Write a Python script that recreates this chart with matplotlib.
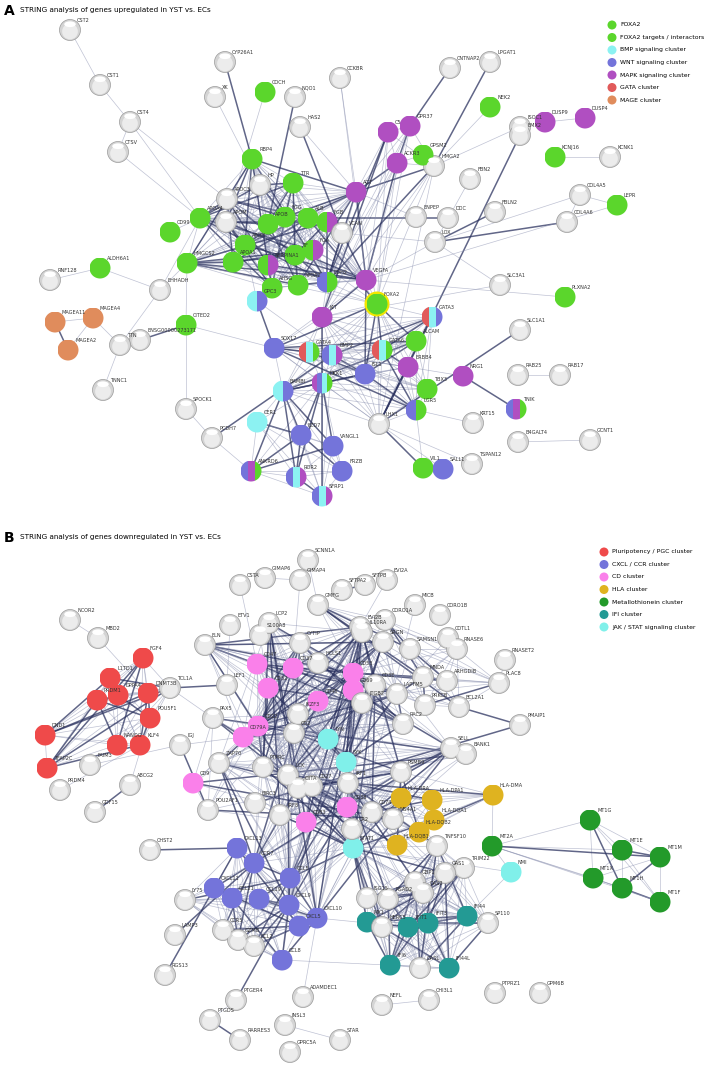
import matplotlib
matplotlib.use("Agg")
import matplotlib.pyplot as plt
from matplotlib.patches import Circle, Rectangle, Ellipse
from itertools import combinations

# ---------------- colours / groups ----------------
GROUP_COLORS = {"G": "#5bd62c", "C": "#8cf2f2", "B": "#7474da", "M": "#b04fc1",
                "R": "#e15a5a", "O": "#e08c5c",
                "P": "#ef4a4a", "K": "#fa80ea", "H": "#dfb320", "T": "#239a2a",
                "I": "#239a94", "J": "#80f0ea"}
LEGEND_A = [("G", "FOXA2"), ("G", "FOXA2 targets / interactors"), ("C", "BMP signaling cluster"),
            ("B", "WNT signaling cluster"), ("M", "MAPK signaling cluster"), ("R", "GATA cluster"),
            ("O", "MAGE cluster")]
LEGEND_B = [("P", "Pluripotency / PGC cluster"), ("B", "CXCL / CCR cluster"), ("K", "CD cluster"),
            ("H", "HLA cluster"), ("T", "Metallothionein cluster"), ("I", "IFI cluster"),
            ("J", "JAK / STAT signaling cluster")]

# ---------------- panel A nodes ----------------
A_names = ["CST2","CST1","CST4","CTSV","CYP26A1","XK","NQO1","CCKBR","HAS2","COCH","CNTNAP2","LPGAT1",
           "NEK2","DUSP9","DUSP4","C5","GPR37","ISOC1","ACKR3","HMGA2","GPSM2","FBN2","KCNJ16","KCNK1",
           "RBP4","HP","TTR","APOC3","APOA4","APOM","APOB","FGG","ALB","FGB","AGT","VCAN","ENPEP","DDC",
           "LOX","HMGCS2","APOH","APOA1","SERPINA1","TF","FGA","AHSG","APOA2","CDH2","VEGFA","FOXA2",
           "KIT","GPC3","GATA3","ALCAM","CITED2","SOX17","GATA4","BMP2","GATA6","ERBB4","ISL1","DKK1",
           "BAMBI","CER1","FZD7","VANGL1","FRZB","ROR2","SFRP1","ANKRD6","LHX1","LGR5","TBX3","NRG1",
           "KRT15","VIL1","SALL1","TSPAN12","TNIK","SLC1A1","RAB25","B4GALT4","SPOCK1","PCDH7",
           "ENSG00000273171","RNF128","CD99","ALDH6A1","EHHADH","MAGEA11","MAGEA4","MAGEA2","TTN","TNNC1",
           "SLC3A1","PLXNA2","FBLN2","COL4A5","COL4A6","LEPR","RAB17","GCNT1","EMX2"]
A_x = [70,100,130,118,225,215,295,340,300,265,450,490,490,545,585,388,410,520,397,434,423,470,555,610,
       252,260,293,227,200,226,268,285,308,327,356,342,416,448,435,187,245,233,268,295,313,272,298,327,366,377,
       322,257,432,416,186,274,309,332,382,408,365,322,283,257,301,333,342,296,322,251,379,416,427,463,
       473,423,443,472,516,520,518,518,186,212,140,50,170,100,160,55,93,68,120,103,500,565,495,580,567,617,560,590,520]
A_y = [30,85,122,152,62,97,97,78,127,92,68,62,107,122,118,132,126,127,163,166,155,179,157,157,
       159,185,183,199,218,222,224,217,218,222,192,233,217,218,242,263,245,262,265,255,250,288,285,282,280,304,
       317,301,317,341,325,348,352,355,350,367,374,383,391,422,435,446,471,477,496,471,424,410,389,376,
       423,468,469,464,409,330,375,442,409,438,340,280,232,268,290,322,318,350,345,390,285,297,212,195,222,205,375,440,135]
A_groups = ["","","","","","","","","","G","","","G","M","M","M","M","","M","","G","","G","",
            "G","","G","","G","","G","G","G","GM","M","","","","","G","G","G","GM","G","GM","G","G","BG","M","G",
            "M","CB","RCB","G","G","B","RCG","BCM","RCG","M","B","MBCG","CB","C","B","B","B","BCM","BCM","BMG","","BG","G","M",
            "","G","B","","BMG","","","","","","","","G","G","","O","O","O","","","","G","","","","G","","",""]

A_cliques = [
    ["RBP4","HP","TTR","APOC3","APOA4","APOM","APOB","FGG","ALB","FGB","AGT","APOH","APOA1","SERPINA1",
     "TF","FGA","AHSG","APOA2","CDH2","HMGCS2","VEGFA"],
    ["FOXA2","KIT","GATA3","ALCAM","SOX17","GATA4","BMP2","GATA6","ERBB4","ISL1","DKK1","BAMBI","LHX1","TBX3","LGR5"],
    ["DKK1","FZD7","VANGL1","FRZB","ROR2","SFRP1","ANKRD6","BAMBI","CER1"],
    ["AGT","VEGFA","KIT","CDH2","FOXA2","ACKR3","C5","GPR37","HMGA2"],
]
A_pairs = [("CST2","CST1"),("CST1","CST4"),("CST4","CTSV"),("CST4","APOC3"),("CST4","APOA4"),("CTSV","APOA4"),
           ("CYP26A1","RBP4"),("XK","HP"),("NQO1","APOB"),("CCKBR","VEGFA"),("HAS2","VCAN"),("COCH","APOM"),
           ("CNTNAP2","GPR37"),("LPGAT1","HMGA2"),("NEK2","HMGA2"),("DUSP9","DUSP4"),("ISOC1","HMGA2"),
           ("GPSM2","ACKR3"),("FBN2","LOX"),("ENPEP","AGT"),("DDC","ALB"),("LOX","VCAN"),("LOX","FBLN2"),
           ("LOX","COL4A5"),("LOX","COL4A6"),("COL4A5","COL4A6"),("COL4A5","LEPR"),("LOX","VEGFA"),
           ("VCAN","VEGFA"),("VCAN","CDH2"),("HMGA2","LHX1"),("LOX","SLC3A1"),("SLC3A1","KIT"),
           ("SLC1A1","LHX1"),("RAB25","RAB17"),("B4GALT4","GCNT1"),("NRG1","ERBB4"),("NRG1","TNIK"),
           ("KRT15","LGR5"),("VIL1","LGR5"),("SALL1","LHX1"),("TSPAN12","LHX1"),("VIL1","LHX1"),
           ("CITED2","HMGCS2"),("CITED2","SOX17"),("CITED2","ENSG00000273171"),("CITED2","SPOCK1"),
           ("SPOCK1","PCDH7"),("PCDH7","ANKRD6"),("PCDH7","BMP2"),("RNF128","ALDH6A1"),("ALDH6A1","EHHADH"),
           ("EHHADH","HMGCS2"),("EHHADH","APOA4"),("CD99","APOA4"),("MAGEA11","MAGEA4"),("MAGEA11","MAGEA2"),
           ("MAGEA4","MAGEA2"),("MAGEA4","TTN"),("TTN","TNNC1"),("TTN","EHHADH"),("GPC3","APOH"),
           ("GPC3","BMP2"),("GPC3","SOX17"),("EMX2","LHX1"),("PLXNA2","VEGFA"),("LEPR","VEGFA"),
           ("KCNJ16","KCNK1"),("VEGFA","SOX17"),("VEGFA","ISL1"),("FOXA2","APOA1"),("FOXA2","TTR"),
           ("FOXA2","APOB"),("FOXA2","ALB"),("FOXA2","HMGCS2"),("FOXA2","GATA3"),("KIT","SFRP1"),
           ("BMP2","SFRP1"),("GATA4","GATA6"),("CCKBR","AGT"),("HAS2","AGT")]

# ---------------- panel B nodes ----------------
B_names = ["FGF4","L1TD1","DPPA4","DNMT3B","PRDM1","POU5F1","NANOG","KLF4","DND1","TFAP2C","TCL1A",
           "SCNN1A","CSTA","GIMAP6","GIMAP4","SFTPA2","SFTPB","EVI2A","MICB","NCOR2","MBD2","ETV1","S100A8",
           "GMFG","CORO1A","COTL1","EVI2B","CYTIP","SRGN","SAMSN1","RNASE6","RNASET2",
           "CD47","CD37","CD52","CD53","CD48","CD22","CD79A","CD9","CD38","CD83","CD69",
           "LYN","SYK","STAT1","NMI",
           "HLA-DRA","HLA-DPA1","HLA-DMA","HLA-DQA1","HLA-DQB2","HLA-DQB1",
           "MT2A","MT1G","MT1E","MT1M","MT1X","MT1H","MT1F",
           "MX1","IFIT1","IFIT3","IFI44","IFI6","IFI44L",
           "CXCL13","CCR7","CCL5","CXCL11","CCL21","CCL19","CXCL9","CXCL10","CXCL5","CCL8",
           "HCLS1","LEF1","CD3E","MNDA","ARHGDIB","PLAC8","LAPTM5","PRKCB","BCL2A1","PMAIP1","PAX5",
           "ITGB2","RAC2","CD2","IKZF3","ELN","LCP2","CORO1B","IL10RA","SELL","BANK1","BIRC3","POU2AF1",
           "ZAP70","PTPRC","LCK","PSMB9","CIITA","CD27","IRF1","IRF8","CR2","MS4A1","TNFSF10","CD74",
           "TRIM22","OAS1","GBP1","OAS2","ISG15","RSAD2","HERC5","SP110","LY75","CCR5","GZMB","CCL2",
           "OASL","PTGER4","PTGDS","RARRES3","GPRC5A","INSL3","STAR","ADAMDEC1","NEFL","CHI3L1",
           "PTPRZ1","GPM6B","IGJ","FAIM3","PRDM4","ABCG2","GDF15","CHST2","LAMP3","RGS13"]
B_x = [143,110,118,148,97,150,117,140,45,47,170,
       308,240,265,300,342,365,387,415,70,98,230,260,318,385,448,360,300,383,410,457,505,
       257,293,268,353,318,258,243,193,347,306,353,
       328,346,353,511,
       401,432,493,434,419,397,
       492,590,622,660,593,622,660,
       367,408,428,467,390,449,
       237,254,290,214,232,259,289,317,299,282,
       318,227,375,423,447,499,397,425,459,520,213,
       362,403,294,298,205,269,440,362,451,466,255,208,
       219,263,288,401,298,312,348,280,352,393,437,372,
       464,445,415,423,367,388,382,488,185,223,238,254,
       420,236,210,240,290,285,340,303,382,429,
       495,540,180,90,60,130,95,150,175,165]
B_y = [658,678,695,693,700,718,745,745,735,768,688,
       560,585,578,580,590,585,580,605,620,638,625,635,605,620,638,627,643,642,649,649,660,
       664,668,688,673,701,726,737,783,807,822,690,
       739,762,848,872,
       798,800,795,820,832,845,
       846,820,850,857,878,888,902,
       922,927,923,916,965,968,
       848,863,878,888,898,899,905,918,926,960,
       663,685,685,677,681,683,694,705,707,725,718,
       703,724,733,714,645,623,615,632,748,754,803,810,
       763,767,775,772,788,786,783,815,829,819,846,812,
       868,873,882,893,898,899,927,923,900,930,940,946,
       968,1000,1020,1040,1052,1025,1040,997,1005,1000,
       993,993,745,765,790,785,812,850,935,975]
B_groups = ["P"]*10 + [""]*22 + ["K"]*11 + ["J"]*4 + ["H"]*6 + ["T"]*7 + ["I"]*6 + ["B"]*10
B_groups = B_groups + [""] * (len(B_names) - len(B_groups))

B_cliques = [
    ["FGF4","L1TD1","DPPA4","DNMT3B","PRDM1","POU5F1","NANOG","KLF4","TCL1A","DND1","TFAP2C"],
    ["CD47","CD37","CD52","CD53","CD48","CD22","CD79A","LYN","SYK","HCLS1","CYTIP","EVI2B","SRGN",
     "LAPTM5","ITGB2","RAC2","PTPRC","LCK","CD2","ELN"],
    ["PTPRC","LCK","ZAP70","CD2","CD3E","IL10RA","CD38","CD83","CD69","STAT1","IRF1","IRF8","CD74",
     "PSMB9","CCR7","CCL5","CXCL10","CXCL9","SELL","CD27","LCP2"],
    ["CXCL13","CCR7","CCL5","CXCL11","CCL21","CCL19","CXCL9","CXCL10","CXCL5","CCL8","CCR5","GZMB","CCL2","LY75"],
    ["HLA-DRA","HLA-DPA1","HLA-DMA","HLA-DQA1","HLA-DQB2","HLA-DQB1","CD74","CIITA","STAT1","IRF1","PSMB9"],
    ["MX1","IFIT1","IFIT3","IFI44","IFI6","IFI44L","OAS1","GBP1","OAS2","ISG15","RSAD2","HERC5","SP110",
     "TRIM22","STAT1","TNFSF10","OASL","IRF1"],
    ["MT2A","MT1G","MT1E","MT1M","MT1X","MT1H","MT1F"],
    ["CD79A","PAX5","MS4A1","CR2","POU2AF1","CD22","CD9","IKZF3","BANK1"],
    ["MNDA","ARHGDIB","PLAC8","BCL2A1","PRKCB","CORO1A","GMFG","RNASE6","SAMSN1","LAPTM5","CD53"],
]
B_pairs = [("NCOR2","MBD2"),("MBD2","DNMT3B"),("ETV1","LEF1"),("S100A8","CD52"),("CSTA","CD47"),
           ("GIMAP6","GIMAP4"),("GIMAP4","CD37"),("SFTPA2","SFTPB"),("EVI2A","EVI2B"),("MICB","STAT1"),
           ("SCNN1A","GMFG"),("COTL1","LAPTM5"),("RNASET2","PLAC8"),("PMAIP1","BCL2A1"),("PMAIP1","BIRC3"),
           ("BIRC3","BANK1"),("BIRC3","STAT1"),("FAIM3","IGJ"),("PRDM4","KLF4"),("ABCG2","POU5F1"),
           ("GDF15","ABCG2"),("CHST2","CXCL13"),("LAMP3","CCR7"),("RGS13","CXCL13"),("PTGER4","PTGDS"),
           ("PTGER4","CXCL9"),("RARRES3","PTGDS"),("INSL3","STAR"),("ADAMDEC1","CXCL10"),("NEFL","CHI3L1"),
           ("HLA-DMA","MT2A"),("MT2A","NMI"),("NMI","IFI44"),("NMI","STAT1"),("TNFSF10","HLA-DRA"),
           ("LEF1","TCL1A"),("IGJ","POU2AF1"),("IGJ","CD79A"),("PAX5","TCL1A"),("CD9","PAX5"),
           ("STAT1","CXCL10"),("STAT1","MX1"),("STAT1","IFIT3"),("IRF1","CXCL9"),("CXCL10","IFIT1"),
           ("CCL8","IFI44L"),("CCL5","HLA-DRA"),("CIITA","CD74"),("PTPRC","CD74")]

n = min(len(B_names), len(B_x), len(B_y))
B_names, B_x, B_y, B_groups = B_names[:n], B_x[:n], B_y[:n], B_groups[:n]


def style_text(ax, x, y, s, **kw):
    ax.text(x, y, s, fontsize=3.6, color="#333333", fontfamily="DejaVu Sans", **kw)


def draw_node(ax, x, y, groups, r=10.5):
    if not groups:
        ax.add_patch(Circle((x, y), r, facecolor="#d4d4d4", edgecolor="#9a9a9a", lw=0.5, zorder=4))
        ax.add_patch(Circle((x, y + 1.5), r * 0.75, facecolor="#ececec", edgecolor="none", zorder=4.1))
        ax.add_patch(Ellipse((x, y - r * 0.55), r * 1.1, r * 0.55, facecolor="white", edgecolor="none",
                             zorder=4.2))
        return
    clip = Circle((x, y), r, transform=ax.transData)
    k = len(groups)
    w = 2 * r / k
    for i, g in enumerate(groups):
        rect = Rectangle((x - r + i * w, y - r), w, 2 * r, facecolor=GROUP_COLORS[g], edgecolor="none",
                         zorder=4)
        ax.add_patch(rect)
        rect.set_clip_path(clip)


def draw_panel(ax, names, xs, ys, groups, cliques, pairs, highlight=None):
    pos = {nm: (x, y) for nm, x, y in zip(names, xs, ys)}
    edges = set()
    for cl in cliques:
        for a, b in combinations(cl, 2):
            edges.add(tuple(sorted((a, b))))
    for a, b in pairs:
        edges.add(tuple(sorted((a, b))))
    for k, (a, b) in enumerate(sorted(edges)):
        if a not in pos or b not in pos:
            continue
        (x1, y1), (x2, y2) = pos[a], pos[b]
        strong = (k % 4 == 0)
        ax.plot([x1, x2], [y1, y2], color="#2c3360" if strong else "#8a90b0",
                lw=1.1 if strong else 0.5, alpha=0.75 if strong else 0.55, zorder=2)
    for nm, x, y, g in zip(names, xs, ys, groups):
        if highlight and nm == highlight:
            ax.add_patch(Circle((x, y), 12.5, facecolor="#f2e600", edgecolor="none", zorder=3.9))
        draw_node(ax, x, y, g)
        style_text(ax, x + 7, y - 8, nm, zorder=6)


fig = plt.figure(figsize=(7.09, 10.76), dpi=100)
ax = fig.add_axes([0, 0, 1, 1])
ax.set_xlim(0, 709)
ax.set_ylim(1076, 0)
ax.set_aspect("equal")
ax.axis("off")

draw_panel(ax, A_names, A_x, A_y, A_groups, A_cliques, A_pairs, highlight="FOXA2")
draw_panel(ax, B_names, B_x, B_y, B_groups, B_cliques, B_pairs)

ax.text(4, 11, "A", fontsize=10, fontweight="bold", va="center")
ax.text(20, 10, "STRING analysis of genes upregulated in YST vs. ECs", fontsize=5.2, va="center")
ax.text(4, 538, "B", fontsize=10, fontweight="bold", va="center")
ax.text(20, 537, "STRING analysis of genes downregulated in YST vs. ECs", fontsize=5.2, va="center")

for i, (g, lab) in enumerate(LEGEND_A):
    y = 25 + 12.5 * i
    ax.add_patch(Circle((612, y), 4.5, facecolor=GROUP_COLORS[g], edgecolor="none"))
    ax.text(620, y, lab, fontsize=4.4, va="center")
for i, (g, lab) in enumerate(LEGEND_B):
    y = 552 + 12.5 * i
    ax.add_patch(Circle((604, y), 4.5, facecolor=GROUP_COLORS[g], edgecolor="none"))
    ax.text(612, y, lab, fontsize=4.4, va="center")

fig.savefig("out.png", dpi=100, facecolor="white")
